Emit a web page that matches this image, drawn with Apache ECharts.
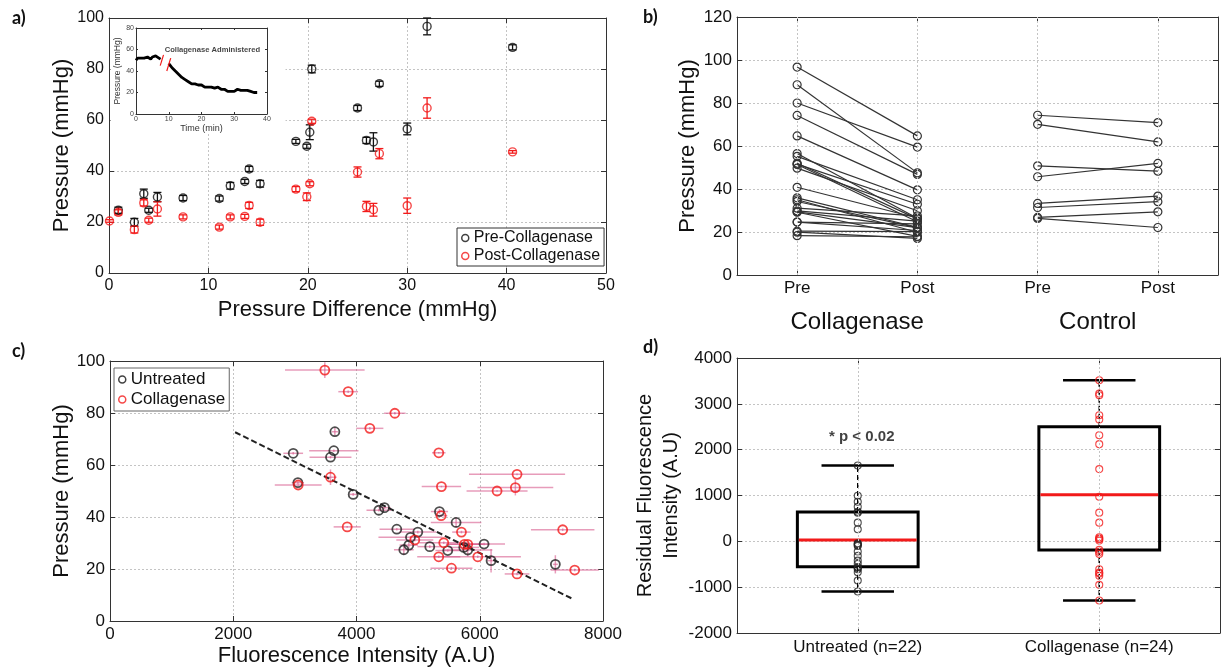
<!DOCTYPE html>
<html><head><meta charset="utf-8">
<script src="https://cdn.jsdelivr.net/npm/echarts@6/dist/echarts.min.js"></script>
<style>html,body{margin:0;padding:0;background:#fff}#c{width:1224px;height:671px}</style>
</head><body><div id="c"></div>
<script>
// ---------- Panel a: pressure vs pressure difference ----------
var preDiffA  = [0.94,2.55,3.5,4.0,4.87,7.45,11.1,12.2,13.66,14.1,15.2,18.8,19.9,20.2,20.4,25.0,25.9,26.6,27.2,30.0,32.0,40.6];
var preA      = [24.6,19.9,31.1,24.6,29.8,29.4,29.2,34.2,35.9,40.8,35.0,51.6,49.7,55.2,80.0,64.7,52.0,51.4,74.2,56.5,96.7,88.5];
var preErrA   = [1.2,1.5,1.8,0.8,1.8,1.0,1.0,1.3,0.8,1.0,1.3,0.8,0.8,2.9,1.5,1.0,1.2,3.6,1.0,2.3,3.3,1.0];
var postDiffA = [0.05,0.94,2.55,3.5,4.0,4.87,7.45,11.1,12.2,13.66,14.1,15.2,18.8,19.9,20.2,20.4,25.0,25.9,26.6,27.2,30.0,32.0,40.6];
var postA     = [20.4,23.8,17.0,27.5,20.7,25.1,22.0,18.0,22.0,22.2,26.5,19.9,32.9,29.9,35.0,59.5,39.6,26.1,24.8,46.8,26.4,64.7,47.5];
var postErrA  = [0.5,1.0,1.3,1.2,0.8,2.8,0.8,0.8,0.8,0.8,1.2,1.2,1.0,1.5,0.8,0.8,2.0,2.0,2.5,2.0,3.0,4.0,0.5];

// inset: pressure over time
var insetT1 = [0,0.5,1,1.5,2,2.5,3,3.5,4,4.5,5,5.5,6,6.5,7,7.5];
var insetP1 = [50,52,53,52,53,52,51,53,52,51,53,52,54,53,52,51];
var insetT2 = [10,10.5,11,11.5,12,12.5,13,13.5,14,14.5,15,15.5,16,16.5,17,17.5,18,18.5,19,19.5,20,20.5,21,21.5,22,22.5,23,23.5,24,24.5,25,25.5,26,26.5,27,27.5,28,28.5,29,29.5,30,30.5,31,31.5,32,32.5,33,33.5,34,34.5,35,35.5,36,36.5,37];
var insetP2 = [47,45,43,42,40,39,37,36,34,33,32,31,30,29,28,29,28,27,27,26,27,26,25,26,25,24,25,26,24,23,25,24,23,22,23,22,21,22,21,22,21,22,23,22,22,23,22,23,22,23,21,21,20,21,20];
var breakX1 = [7.4,8.4],  breakY1 = [45,55];
var breakX2 = [9.4,10.6], breakY2 = [40,52];
var insetNote = 'Collagenase Administered', insetNoteX = 8.6, insetNoteY = 60;

// ---------- Panel b: paired pressures ----------
var bTicks = ['Pre','Post','Pre','Post'];
var bGroups = ['Collagenase','Control'];
var collPre  = [96.7,88.5,80.0,74.2,64.7,56.5,55.2,52.0,51.6,51.4,49.7,40.8,35.9,35.0,34.2,31.1,29.8,29.4,29.2,24.6,24.6,20.4,19.9,18.3];
var collPost = [64.7,47.5,59.5,46.8,39.6,26.4,35.0,26.1,32.9,24.8,29.9,26.5,22.2,19.9,22.0,27.5,25.1,22.0,18.0,23.8,20.7,20.2,17.0,17.8];
var ctrlPre  = [74.3,70.1,50.8,45.7,33.3,31.4,26.8,26.3];
var ctrlPost = [70.9,61.9,48.3,51.9,36.7,34.1,29.4,22.1];

// ---------- Panel c: pressure vs fluorescence ----------
var untX    = [2973,3049,3578,3632,3649,3946,4362,4454,4654,4768,4849,4876,4995,5189,5346,5481,5616,5741,5805,6070,6184,7227];
var untY    = [64.5,53.2,63.0,65.5,72.8,48.7,42.6,43.6,35.3,27.4,29.2,32.2,34.2,28.6,42.1,27.1,37.9,28.3,27.3,29.6,23.2,21.8];
var untXErr = [160,100,340,400,50,60,200,100,280,160,150,520,300,200,140,200,410,250,400,340,60,40];
var untYErr = [0.5,0.5,0.5,0.5,1.5,0.5,0.5,0.5,0.5,2.0,1.0,0.5,0.5,0.5,1.0,0.5,2.0,0.5,2.5,0.5,4.5,3.5];
var colX    = [3486,3865,4622,4216,5335,3578,3054,6605,5378,6578,6281,3849,5373,5703,4946,5416,5751,5805,5335,5968,5541,6605,7346,7541];
var colY    = [96.5,88.2,79.9,74.1,64.7,55.3,52.3,56.4,51.7,51.3,50.0,36.2,40.5,34.2,31.2,30.1,29.5,29.5,24.7,24.7,20.3,18.1,35.1,19.6];
var colXErr = [646,160,175,220,110,100,380,780,320,615,495,220,100,150,300,400,300,350,350,700,340,200,515,390];
var colYErr = [3,0.5,0.5,0.5,0.3,3,0.3,0.3,0.3,3,0.3,0.3,0.5,0.5,0.5,0.5,0.5,0.5,0.5,0.5,0.5,0.5,0.5,0.5];
var fitX = [2030,7490], fitY = [72.6,8.7];

// ---------- Panel d: residual fluorescence ----------
var dCats = ['Untreated (n=22)','Collagenase (n=24)'];
var untRes = [1656,996,865,756,647,626,408,263,-42,-60,-78,-100,-223,-318,-420,-492,-565,-580,-608,-673,-855,-1094];
var colRes = [3514,3224,3187,2752,2657,2316,2120,1576,974,626,408,89,60,45,16,-187,-230,-274,-608,-680,-700,-753,-949,-1290];
// [min, q1, median, q3, max]
var untBox = [-1094,-557,30,640,1656];
var colBox = [-1290,-187,1017,2498,3514];
var pText = '* p < 0.02', pY = 2280;

// ================= chart =================
var FONT = 'Liberation Sans';
var RED = '#f21a1a';
function plain(v){ return String(v); }
function merge(a,b){ for (var k in b){ if (b[k] && typeof b[k]==='object' && !Array.isArray(b[k]) && a[k] && typeof a[k]==='object') merge(a[k],b[k]); else a[k]=b[k]; } return a; }
function axisBase(fs){
  return {axisLine:{show:true,onZero:false,lineStyle:{color:'#333',width:1}},
    axisTick:{show:true,inside:true,length:5,lineStyle:{color:'#333'}},
    axisLabel:{color:'#111',fontFamily:FONT,fontSize:fs,margin:5},
    splitLine:{show:true,lineStyle:{color:'#c4c4c4',type:[2,2],width:1}},
    nameTextStyle:{fontFamily:FONT,color:'#111'}, nameLocation:'middle'};
}
function valAx(o,fs){ var a=merge({type:'value'},axisBase(fs||16)); a.axisLabel.formatter=plain; return merge(a,o); }
function mirror(o){ return merge({axisLine:{show:true,onZero:false,lineStyle:{color:'#333'}},axisTick:{show:true,inside:true,length:5,lineStyle:{color:'#333'}},axisLabel:{show:false},splitLine:{show:false}},o); }
function zip(a,b){ return a.map(function(v,i){return [v,b[i]];}); }
function zip3(a,b,c){ return a.map(function(v,i){return [v,b[i],c[i]];}); }
function zip4(a,b,c,d){ return a.map(function(v,i){return [v,b[i],c[i],d[i]];}); }
function hollow(col,w){ return {color:'rgba(0,0,0,0)',borderColor:col,borderWidth:w}; }

function errV(color,cap){
  return function(params,api){
    var x=api.value(0),y=api.value(1),e=api.value(2);
    var lo=api.coord([x,y-e]),hi=api.coord([x,y+e]);
    var st={stroke:color,lineWidth:1.3};
    return {type:'group',children:[
      {type:'line',shape:{x1:lo[0],y1:lo[1],x2:hi[0],y2:hi[1]},style:st},
      {type:'line',shape:{x1:lo[0]-cap,y1:lo[1],x2:lo[0]+cap,y2:lo[1]},style:st},
      {type:'line',shape:{x1:hi[0]-cap,y1:hi[1],x2:hi[0]+cap,y2:hi[1]},style:st}]};
  };
}
function errXY(color){
  return function(params,api){
    var x=api.value(0),y=api.value(1),ex=api.value(2),ey=api.value(3);
    var l=api.coord([x-ex,y]),r=api.coord([x+ex,y]),b=api.coord([x,y-ey]),t=api.coord([x,y+ey]);
    var st={stroke:color,lineWidth:1.5};
    return {type:'group',children:[
      {type:'line',shape:{x1:l[0],y1:l[1],x2:r[0],y2:r[1]},style:st},
      {type:'line',shape:{x1:b[0],y1:b[1],x2:t[0],y2:t[1]},style:st}]};
  };
}
function boxItem(params,api){
  var i=api.value(0);
  var bw=api.size([1,0])[0];
  var half=bw*0.25, cap=bw*0.15;
  var pMin=api.coord([i,api.value(1)]),pQ1=api.coord([i,api.value(2)]),pMed=api.coord([i,api.value(3)]),pQ3=api.coord([i,api.value(4)]),pMax=api.coord([i,api.value(5)]);
  var cx=pMin[0];
  var dash={stroke:'#000',lineWidth:1.5,lineDash:[5,3]};
  var solid={stroke:'#000',lineWidth:2.5};
  return {type:'group',children:[
    {type:'line',shape:{x1:cx,y1:pQ3[1],x2:cx,y2:pMax[1]},style:dash},
    {type:'line',shape:{x1:cx,y1:pQ1[1],x2:cx,y2:pMin[1]},style:dash},
    {type:'line',shape:{x1:cx-cap,y1:pMax[1],x2:cx+cap,y2:pMax[1]},style:solid},
    {type:'line',shape:{x1:cx-cap,y1:pMin[1],x2:cx+cap,y2:pMin[1]},style:solid},
    {type:'rect',shape:{x:cx-half,y:pQ3[1],width:2*half,height:pQ1[1]-pQ3[1]},style:{fill:'transparent',stroke:'#000',lineWidth:3}},
    {type:'line',shape:{x1:cx-half+1.5,y1:pMed[1],x2:cx+half-1.5,y2:pMed[1]},style:{stroke:RED,lineWidth:3}}]};
}

var grid = [
  {left:109,top:18,right:618,bottom:398},   // a
  {left:136,top:28,right:957,bottom:557},   // inset
  {left:737,top:17,right:6,bottom:396},     // b
  {left:110,top:361,right:621,bottom:50},   // c
  {left:737,top:358,right:4,bottom:38}      // d
];

var xAxis = [
  valAx({gridIndex:0,min:0,max:50,interval:10,name:'Pressure Difference (mmHg)',nameGap:26,nameTextStyle:{fontSize:22}},16),
  mirror({type:'value',gridIndex:0,position:'top',min:0,max:50,interval:10}),
  valAx({gridIndex:1,min:0,max:40,interval:10,z:5,name:'Time (min)',nameGap:9,nameTextStyle:{fontSize:9,color:'#333'},axisLabel:{fontSize:7,color:'#444',margin:2},axisTick:{length:2},splitLine:{show:false}},7),
  mirror({type:'value',gridIndex:1,position:'top',min:0,max:40,interval:10,z:5,axisTick:{length:2}}),
  merge(merge({type:'category',gridIndex:2,data:bTicks,boundaryGap:true},axisBase(17)),{axisTick:{alignWithLabel:true},splitLine:{show:false}}),
  {type:'category',gridIndex:2,data:bGroups,position:'bottom',offset:30,axisLine:{show:false},axisTick:{show:false},splitLine:{show:false},axisLabel:{fontFamily:FONT,fontSize:24,color:'#111',margin:5,interval:0}},
  mirror({type:'category',gridIndex:2,data:bTicks,position:'top',boundaryGap:true,axisTick:{alignWithLabel:true}}),
  valAx({gridIndex:3,min:0,max:8000,interval:2000,name:'Fluorescence Intensity (A.U)',nameGap:24,nameTextStyle:{fontSize:22}},17),
  mirror({type:'value',gridIndex:3,position:'top',min:0,max:8000,interval:2000}),
  merge(merge({type:'category',gridIndex:4,data:dCats,boundaryGap:true},axisBase(17)),{axisTick:{alignWithLabel:true},splitLine:{show:false},axisLabel:{margin:6}}),
  mirror({type:'category',gridIndex:4,data:dCats,position:'top',boundaryGap:true,axisTick:{alignWithLabel:true}})
];
var yAxis = [
  valAx({gridIndex:0,min:0,max:100,interval:20,name:'Pressure (mmHg)',nameGap:36,nameTextStyle:{fontSize:22}},16),
  mirror({type:'value',gridIndex:0,position:'right',min:0,max:100,interval:20}),
  valAx({gridIndex:1,min:0,max:80,interval:20,z:5,name:'Pressure (mmHg)',nameGap:9,nameTextStyle:{fontSize:8.5,color:'#333'},axisLabel:{fontSize:7,color:'#444',margin:2},axisTick:{length:2},splitLine:{show:false}},7),
  mirror({type:'value',gridIndex:1,position:'right',min:0,max:80,interval:20,z:5,axisTick:{length:2}}),
  valAx({gridIndex:2,min:0,max:120,interval:20,name:'Pressure (mmHg)',nameGap:38,nameTextStyle:{fontSize:22}},17),
  mirror({type:'value',gridIndex:2,position:'right',min:0,max:120,interval:20}),
  valAx({gridIndex:3,min:0,max:100,interval:20,name:'Pressure (mmHg)',nameGap:36,nameTextStyle:{fontSize:22}},17),
  mirror({type:'value',gridIndex:3,position:'right',min:0,max:100,interval:20}),
  valAx({gridIndex:4,min:-2000,max:4000,interval:1000,name:'Residual Fluorescence\nIntensity (A.U)',nameGap:47,nameTextStyle:{fontSize:20,lineHeight:26}},17),
  mirror({type:'value',gridIndex:4,position:'right',min:-2000,max:4000,interval:1000})
];

var vGrid = {silent:true,symbol:'none',label:{show:false},lineStyle:{color:'#c4c4c4',type:[2,2],width:1}};
var series = [];
// panel a
series.push({type:'custom',xAxisIndex:0,yAxisIndex:0,renderItem:errV('#111',4),data:zip3(preDiffA,preA,preErrA),encode:{x:0,y:1},z:3});
series.push({type:'custom',xAxisIndex:0,yAxisIndex:0,renderItem:errV(RED,4),data:zip3(postDiffA,postA,postErrA),encode:{x:0,y:1},z:3});
series.push({type:'scatter',name:'Pre-Collagenase',xAxisIndex:0,yAxisIndex:0,data:zip(preDiffA,preA),symbolSize:8,itemStyle:hollow('#111',1.4),z:4});
series.push({type:'scatter',name:'Post-Collagenase',xAxisIndex:0,yAxisIndex:0,data:zip(postDiffA,postA),symbolSize:8,itemStyle:hollow(RED,1.4),z:4});
// inset
series.push({type:'line',xAxisIndex:2,yAxisIndex:2,data:zip(insetT1,insetP1),showSymbol:false,lineStyle:{color:'#000',width:2.8},z:6});
series.push({type:'line',xAxisIndex:2,yAxisIndex:2,data:zip(insetT2,insetP2),showSymbol:false,lineStyle:{color:'#000',width:2.8},z:6});
series.push({type:'line',xAxisIndex:2,yAxisIndex:2,data:zip(breakX1,breakY1),showSymbol:false,lineStyle:{color:RED,width:1.2},z:6});
series.push({type:'line',xAxisIndex:2,yAxisIndex:2,data:zip(breakX2,breakY2),showSymbol:false,lineStyle:{color:RED,width:1.2},z:6});
series.push({type:'scatter',xAxisIndex:2,yAxisIndex:2,data:[[insetNoteX,insetNoteY]],symbolSize:1,itemStyle:{color:'rgba(0,0,0,0)'},z:6,
  label:{show:true,position:'right',distance:0,formatter:insetNote,fontFamily:FONT,fontWeight:'bold',fontSize:7.6,color:'#111'}});
// panel b
collPre.forEach(function(v,i){
  series.push({type:'line',xAxisIndex:4,yAxisIndex:4,data:[[0,v],[1,collPost[i]]],symbol:'circle',symbolSize:8,
    itemStyle:hollow('#333',1.2),lineStyle:{color:'#333',width:1.2},z:3,
    markLine: i===0 ? merge({data:[{xAxis:0},{xAxis:1},{xAxis:2},{xAxis:3}]},JSON.parse(JSON.stringify(vGrid))) : undefined});
});
ctrlPre.forEach(function(v,i){
  series.push({type:'line',xAxisIndex:4,yAxisIndex:4,data:[[2,v],[3,ctrlPost[i]]],symbol:'circle',symbolSize:8,
    itemStyle:hollow('#333',1.2),lineStyle:{color:'#333',width:1.2},z:3});
});
// panel c
series.push({type:'custom',xAxisIndex:7,yAxisIndex:6,renderItem:errXY('rgba(215,90,140,0.6)'),data:zip4(untX,untY,untXErr,untYErr),encode:{x:0,y:1},z:2});
series.push({type:'custom',xAxisIndex:7,yAxisIndex:6,renderItem:errXY('rgba(215,90,140,0.6)'),data:zip4(colX,colY,colXErr,colYErr),encode:{x:0,y:1},z:2});
series.push({type:'line',xAxisIndex:7,yAxisIndex:6,data:zip(fitX,fitY),showSymbol:false,lineStyle:{color:'#222',width:2,type:[6,3]},z:3});
series.push({type:'scatter',name:'Untreated',xAxisIndex:7,yAxisIndex:6,data:zip(untX,untY),symbolSize:9,itemStyle:hollow('#222',1.8),z:4});
series.push({type:'scatter',name:'Collagenase',xAxisIndex:7,yAxisIndex:6,data:zip(colX,colY),symbolSize:9,itemStyle:hollow(RED,1.8),z:4});
// panel d
series.push({type:'custom',xAxisIndex:9,yAxisIndex:8,renderItem:boxItem,data:[[0].concat(untBox),[1].concat(colBox)],encode:{x:0,y:[1,2,3,4,5]},z:3,
  markLine: merge({data:[{xAxis:0},{xAxis:1}]},JSON.parse(JSON.stringify(vGrid)))});
series.push({type:'scatter',xAxisIndex:9,yAxisIndex:8,data:untRes.map(function(v){return [0,v];}),symbolSize:7,itemStyle:hollow('#222',1.1),z:4});
series.push({type:'scatter',xAxisIndex:9,yAxisIndex:8,data:colRes.map(function(v){return [1,v];}),symbolSize:7,itemStyle:hollow(RED,1.1),z:4});
series.push({type:'scatter',xAxisIndex:9,yAxisIndex:8,data:[[0,pY]],symbolSize:1,itemStyle:{color:'rgba(0,0,0,0)'},z:4,
  label:{show:true,position:'inside',formatter:pText,fontFamily:FONT,fontWeight:'bold',fontSize:15,color:'#111',offset:[4,0]}});

var legendText = {fontFamily:FONT,fontSize:16,color:'#111'};
var option = {
  animation:false,
  backgroundColor:'#fff',
  grid:grid, xAxis:xAxis, yAxis:yAxis, series:series,
  legend:[
    {data:[{name:'Pre-Collagenase',icon:'circle',itemStyle:hollow('#111',1.5)},{name:'Post-Collagenase',icon:'circle',itemStyle:hollow(RED,1.5)}],
     orient:'vertical',left:457,top:228,itemWidth:7,itemHeight:7,itemGap:2,padding:[2,4,2,4],borderColor:'#333',borderWidth:1,backgroundColor:'#fff',
     textStyle:legendText,selectedMode:false},
    {data:[{name:'Untreated',icon:'circle',itemStyle:hollow('#111',1.5)},{name:'Collagenase',icon:'circle',itemStyle:hollow(RED,1.5)}],
     orient:'vertical',left:114,top:368,itemWidth:7,itemHeight:7,itemGap:3,padding:[3,4,3,4],borderColor:'#666',borderWidth:1,backgroundColor:'#fff',
     textStyle:{fontFamily:FONT,fontSize:17,color:'#111'},selectedMode:false}
  ],
  graphic:[
    {type:'rect',z:1,shape:{x:110.5,y:19,width:175,height:114},style:{fill:'#fff'},silent:true},
    {type:'text',left:12,top:9,style:{text:'a)',font:'bold 18px Lato',fill:'#111'}},
    {type:'text',left:643,top:8,style:{text:'b)',font:'bold 18px Lato',fill:'#111'}},
    {type:'text',left:12,top:342,style:{text:'c)',font:'bold 18px Lato',fill:'#111'}},
    {type:'text',left:643,top:338,style:{text:'d)',font:'bold 18px Lato',fill:'#111'}}
  ]
};
var chart = echarts.init(document.getElementById('c'),null,{renderer:'canvas'});
chart.setOption(option);
</script>
</body></html>
